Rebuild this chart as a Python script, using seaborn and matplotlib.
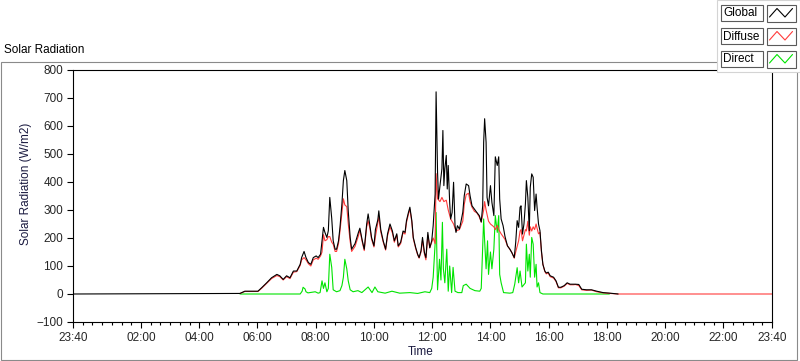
import matplotlib
matplotlib.use("Agg")
import numpy as np
import pandas as pd
import matplotlib.pyplot as plt
import matplotlib.transforms as mtransforms
from matplotlib.patches import Rectangle
from matplotlib.lines import Line2D
import seaborn as sns

# minutes after midnight (-20 = 23:40 the day before) and W/m2
global_min = [-20, 324, 334, 361, 369, 379, 389, 400, 406, 413,
              420, 427, 434, 441, 448, 451, 456, 460, 465, 470,
              475, 481, 485, 490, 493, 496, 499, 503, 506, 509,
              513, 516, 520, 523, 527, 530, 534, 537, 540, 544,
              547, 551, 554, 561, 568, 571, 576, 580, 585, 588,
              592, 595, 600, 603, 608, 610, 614, 619, 624, 628,
              633, 638, 642, 647, 650, 655, 660, 664, 667, 671,
              674, 678, 681, 686, 690, 693, 697, 700, 704, 707,
              711, 715, 719, 722, 726, 728, 731, 733, 736, 740,
              742, 744, 746, 749, 751, 753, 756, 758, 761, 764,
              767, 769, 772, 776, 779, 783, 786, 790, 795, 798,
              802, 807, 812, 817, 821, 824, 826, 828, 831, 833,
              836, 840, 843, 847, 850, 854, 857, 859, 862, 866,
              870, 875, 880, 884, 889, 892, 895, 898, 901, 903,
              906, 909, 912, 914, 917, 920, 922, 925, 928, 931,
              934, 936, 939, 942, 945, 948, 952, 955, 959, 963,
              970, 975, 980, 985, 992, 998, 1004, 1011, 1015, 1022,
              1028, 1038, 1048, 1059, 1072, 1086, 1103]
global_val = [0, 2, 10, 10, 23, 40, 58, 70, 65, 52,
              65, 58, 82, 82, 106, 130, 152, 130, 112, 106,
              130, 136, 130, 142, 190, 238, 220, 202, 226, 345,
              270, 190, 160, 160, 190, 238, 322, 405, 441, 405,
              297, 202, 160, 180, 220, 235, 190, 160, 250, 286,
              240, 202, 172, 230, 265, 297, 230, 190, 160, 215,
              250, 225, 190, 215, 172, 185, 225, 220, 262, 291,
              310, 262, 202, 166, 142, 130, 155, 202, 148, 130,
              220, 165, 190, 244, 357, 722, 435, 339, 387, 447,
              584, 387, 447, 495, 375, 459, 327, 268, 291, 399,
              244, 220, 244, 232, 256, 292, 351, 393, 387, 351,
              315, 303, 291, 280, 257, 315, 542, 626, 542, 345,
              315, 387, 327, 280, 490, 459, 490, 339, 268, 244,
              205, 172, 160, 148, 130, 184, 262, 238, 310, 315,
              214, 250, 322, 405, 345, 226, 381, 429, 417, 298,
              357, 310, 250, 226, 155, 106, 82, 75, 78, 65,
              60, 47, 24, 24, 30, 40, 35, 35, 35, 34,
              17, 15, 15, 10, 5, 3, 0]

diffuse_min = [324, 334, 361, 369, 379, 389, 400, 406, 413, 420,
               427, 434, 441, 448, 451, 456, 460, 465, 470, 475,
               481, 485, 490, 493, 496, 499, 503, 506, 509, 513,
               516, 520, 523, 527, 530, 534, 537, 540, 544, 547,
               551, 554, 561, 568, 571, 576, 580, 585, 588, 592,
               595, 600, 603, 608, 610, 614, 619, 624, 628, 633,
               638, 642, 647, 650, 655, 660, 664, 667, 671, 674,
               678, 681, 686, 690, 693, 697, 700, 704, 707, 711,
               715, 722, 726, 728, 731, 736, 740, 744, 749, 753,
               758, 764, 769, 776, 783, 786, 790, 795, 798, 802,
               807, 812, 817, 821, 826, 828, 831, 836, 840, 847,
               850, 854, 857, 862, 866, 870, 875, 880, 884, 889,
               892, 895, 898, 901, 903, 906, 909, 912, 914, 917,
               920, 922, 925, 928, 931, 934, 936, 939, 942, 945,
               948, 952, 955, 959, 963, 970, 975, 980, 985, 992,
               998, 1004, 1011, 1015, 1022, 1028, 1038, 1048, 1059, 1072,
               1086, 1103, 1420]
diffuse_val = [2, 9, 9, 21, 38, 55, 66, 62, 50, 62,
               55, 78, 80, 102, 122, 130, 122, 108, 100, 122,
               128, 124, 136, 150, 212, 190, 194, 205, 205, 185,
               178, 152, 152, 180, 225, 290, 340, 318, 312, 252,
               188, 152, 170, 208, 228, 185, 155, 240, 262, 232,
               196, 168, 205, 255, 275, 222, 186, 157, 208, 240,
               218, 185, 210, 168, 180, 220, 214, 255, 285, 303,
               257, 198, 162, 140, 128, 150, 192, 142, 122, 210,
               165, 200, 180, 430, 340, 330, 345, 330, 335, 300,
               268, 250, 225, 230, 260, 320, 355, 360, 330, 310,
               295, 290, 275, 257, 300, 330, 300, 260, 250, 240,
               230, 245, 230, 215, 205, 195, 172, 160, 148, 128,
               150, 170, 190, 225, 230, 190, 210, 230, 225, 260,
               210, 240, 225, 240, 230, 250, 235, 215, 220, 150,
               106, 80, 72, 75, 62, 57, 45, 22, 22, 28,
               38, 33, 33, 34, 30, 15, 13, 14, 8, 4,
               2, 0, 0]

direct_min = [324, 448, 452, 454, 458, 460, 464, 479, 485, 489,
              493, 496, 499, 503, 506, 509, 513, 516, 523, 530,
              534, 537, 540, 544, 547, 551, 557, 567, 575, 588,
              596, 602, 608, 623, 637, 653, 674, 690, 705, 715,
              719, 722, 726, 728, 731, 735, 738, 741, 743, 746,
              750, 753, 756, 760, 763, 767, 773, 781, 784, 790,
              798, 808, 818, 821, 826, 828, 831, 834, 836, 840,
              843, 847, 850, 854, 857, 859, 862, 867, 880, 886,
              890, 895, 898, 901, 905, 912, 914, 917, 920, 922,
              925, 928, 931, 934, 936, 939, 942, 948, 1085]
direct_val = [0, 0, 10, 24, 18, 8, 4, 8, 3, 5,
              47, 20, 40, 8, 20, 142, 95, 15, 8, 12,
              30, 60, 124, 90, 47, 15, 8, 12, 5, 25,
              5, 25, 8, 3, 10, 3, 5, 2, 8, 5,
              20, 60, 180, 291, 15, 124, 50, 256, 90, 40,
              160, 10, 100, 5, 95, 10, 5, 5, 30, 35,
              20, 12, 10, 20, 268, 190, 90, 190, 70, 150,
              90, 160, 280, 220, 280, 70, 40, 5, 3, 5,
              35, 94, 40, 82, 25, 40, 178, 82, 142, 60,
              202, 178, 60, 106, 25, 40, 5, 0, 0]

series_names = ["Global", "Diffuse", "Direct"]
series_colors = {"Global": "#000000", "Diffuse": "#ff3b3b", "Direct": "#00e400"}

x_major_min = [-20, 120, 240, 360, 480, 600, 720, 840, 960, 1080, 1200, 1320, 1420]
x_major_lbl = ["23:40", "02:00", "04:00", "06:00", "08:00", "10:00", "12:00",
               "14:00", "16:00", "18:00", "20:00", "22:00", "23:40"]
y_ticks = [-100, 0, 100, 200, 300, 400, 500, 600, 700, 800]

frames = []
for name, mins, vals in [("Direct", direct_min, direct_val),
                         ("Diffuse", diffuse_min, diffuse_val),
                         ("Global", global_min, global_val)]:
    assert len(mins) == len(vals)
    frames.append(pd.DataFrame({"hour": np.array(mins) / 60.0, "value": vals, "series": name}))
df = pd.concat(frames, ignore_index=True)

sns.set_style("white")
plt.rcParams["font.family"] = ["Liberation Sans", "DejaVu Sans"]

W, H = 800, 361
fig = plt.figure(figsize=(W / 100, H / 100), dpi=100)
# pixel coordinates, origin top-left
px = mtransforms.Affine2D().scale(1 / W, -1 / H).translate(0, 1) + fig.transFigure

ax = fig.add_axes([73 / W, 1 - 322 / H, 699 / W, 252 / H])
sns.lineplot(data=df, x="hour", y="value", hue="series",
             hue_order=["Direct", "Diffuse", "Global"], palette=series_colors,
             estimator=None, sort=False, legend=False, linewidth=0.8, ax=ax)

ax.set_xlim(-20 / 60, 1420 / 60)
ax.set_ylim(-100, 800)
ax.set_xticks(np.array(x_major_min) / 60)
ax.set_xticklabels(x_major_lbl)
ax.set_xticks(np.arange(-20, 1421, 20) / 60, minor=True)
ax.set_yticks(y_ticks)
ax.tick_params(axis="both", which="major", direction="out", length=4.5, width=0.8,
               color="black", labelsize=8.5, pad=2.5, left=True, bottom=True)
ax.tick_params(axis="x", which="minor", direction="out", length=2.5, width=0.8,
               color="black", bottom=True)
for sp in ax.spines.values():
    sp.set_visible(True)
    sp.set_color("black")
    sp.set_linewidth(0.8)

ax.set_xlabel("Time", fontsize=8.5, color="#1a1a40")
ax.xaxis.set_label_coords(0.498, -0.097)
ax.set_ylabel("Solar Radiation (W/m2)", fontsize=8.5, color="#1a1a40")
ax.yaxis.set_label_coords(-0.058, 0.548)

# outer chart frame and caption
fig.patches.append(Rectangle((0.5, 62), 796.5, 297.5, transform=px, fill=False,
                             edgecolor="#8a8a8a", linewidth=0.8, zorder=1))
fig.text(4 / W, 1 - 50 / H, "Solar Radiation", fontsize=8.5, ha="left", va="center",
         color="#000000")

# plot legend in the top-right corner
fig.patches.append(Rectangle((717, 0), 83, 72, transform=px, facecolor="white",
                             edgecolor="#d4d4d4", linewidth=0.8, zorder=5))
for i, name in enumerate(series_names):
    top = 5 + i * 23
    fig.patches.append(Rectangle((721, top), 42, 16, transform=px, facecolor="white",
                                 edgecolor="#5a5a5a", linewidth=0.8, zorder=6))
    fig.patches.append(Rectangle((767, top), 29, 17, transform=px, facecolor="white",
                                 edgecolor="#5a5a5a", linewidth=0.8, zorder=6))
    fig.text(723 / W, 1 - (top + 8.5) / H, name, fontsize=8.5, ha="left", va="center",
             color="black", zorder=7)
    zig = Line2D([769.5, 777, 785, 792.5], [top + 12, top + 3.5, top + 12, top + 3.5],
                 transform=px, color=series_colors[name], linewidth=0.8, zorder=7)
    fig.lines.append(zig)

fig.savefig("out.png", dpi=100)
